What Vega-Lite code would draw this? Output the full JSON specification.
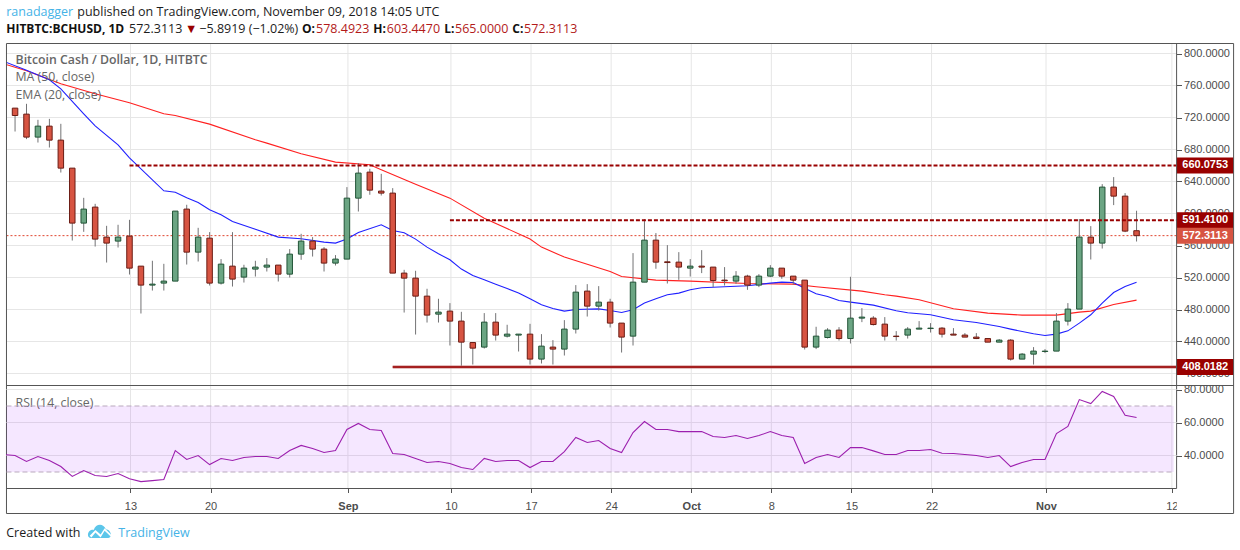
{
  "$schema": "https://vega.github.io/schema/vega-lite/v6.json",
  "width": 1230,
  "height": 550,
  "padding": {"left": 6, "top": 0, "right": 4, "bottom": 0},
  "autosize": "none",
  "background": "white",
  "config": {"view": {"stroke": null}},
  "datasets": {
    "candles": [
      {"date":"2018-08-02","open":768.4,"high":768.4,"low":732.1,"close":732.1},
      {"date":"2018-08-03","open":731.7,"high":731.7,"low":702.5,"close":722.5},
      {"date":"2018-08-04","open":724.2,"high":737.1,"low":693,"close":695.5},
      {"date":"2018-08-05","open":695.5,"high":717.1,"low":688.7,"close":709.2},
      {"date":"2018-08-06","open":709.2,"high":718.3,"low":682.5,"close":691.7},
      {"date":"2018-08-07","open":691.7,"high":712.1,"low":651.2,"close":656.7},
      {"date":"2018-08-08","open":656.7,"high":656.7,"low":566.2,"close":588},
      {"date":"2018-08-09","open":588,"high":619.6,"low":577.1,"close":605.5},
      {"date":"2018-08-10","open":608,"high":612.1,"low":558.7,"close":568},
      {"date":"2018-08-11","open":570.5,"high":584.6,"low":538.7,"close":563},
      {"date":"2018-08-12","open":565.5,"high":585.9,"low":557.5,"close":570.5},
      {"date":"2018-08-13","open":571.7,"high":592.1,"low":523.7,"close":531.7},
      {"date":"2018-08-14","open":534.2,"high":534.2,"low":475,"close":510.5},
      {"date":"2018-08-15","open":510.5,"high":540.9,"low":503.7,"close":511.7},
      {"date":"2018-08-16","open":513,"high":537.1,"low":503.7,"close":515.5},
      {"date":"2018-08-17","open":515.5,"high":603,"low":515.5,"close":603},
      {"date":"2018-08-18","open":605.5,"high":610.9,"low":536.2,"close":551.7},
      {"date":"2018-08-19","open":551.7,"high":582.1,"low":540,"close":570.5},
      {"date":"2018-08-20","open":569.2,"high":576.7,"low":510,"close":513},
      {"date":"2018-08-21","open":513,"high":543,"low":511.2,"close":536.7},
      {"date":"2018-08-22","open":534.2,"high":576.7,"low":508.7,"close":518},
      {"date":"2018-08-23","open":520.5,"high":535.9,"low":513.7,"close":531.7},
      {"date":"2018-08-24","open":530.5,"high":540.9,"low":521.2,"close":533},
      {"date":"2018-08-25","open":533,"high":544.2,"low":527.5,"close":535.5},
      {"date":"2018-08-26","open":535.5,"high":535.5,"low":515,"close":524.2},
      {"date":"2018-08-27","open":524.2,"high":555.5,"low":520,"close":549.2},
      {"date":"2018-08-28","open":549.2,"high":574.6,"low":542.1,"close":565.5},
      {"date":"2018-08-29","open":565.5,"high":570.5,"low":546.2,"close":555.5},
      {"date":"2018-08-30","open":555.5,"high":558,"low":527.5,"close":538},
      {"date":"2018-08-31","open":538,"high":548,"low":535,"close":543},
      {"date":"2018-09-01","open":543,"high":633,"low":543,"close":619.2},
      {"date":"2018-09-02","open":619.2,"high":663,"low":602.5,"close":650.5},
      {"date":"2018-09-03","open":651.7,"high":655.9,"low":623.4,"close":629.2},
      {"date":"2018-09-04","open":628,"high":649.6,"low":622.5,"close":625.5},
      {"date":"2018-09-05","open":625.5,"high":631.7,"low":525.5,"close":525.5},
      {"date":"2018-09-06","open":525.5,"high":529.6,"low":476.2,"close":519.2},
      {"date":"2018-09-07","open":519.2,"high":528.4,"low":448.7,"close":496.7},
      {"date":"2018-09-08","open":496.7,"high":505.9,"low":463.7,"close":473},
      {"date":"2018-09-09","open":474.2,"high":493.4,"low":463.7,"close":476.7},
      {"date":"2018-09-10","open":478,"high":488,"low":435,"close":465.5},
      {"date":"2018-09-11","open":465.5,"high":477.1,"low":408.7,"close":439.2},
      {"date":"2018-09-12","open":438.7,"high":438.7,"low":411.2,"close":431.7},
      {"date":"2018-09-13","open":433,"high":475.5,"low":431.2,"close":464.2},
      {"date":"2018-09-14","open":464.2,"high":475.5,"low":441.2,"close":448},
      {"date":"2018-09-15","open":446.7,"high":460.9,"low":445,"close":449.2},
      {"date":"2018-09-16","open":448,"high":449.2,"low":427.5,"close":449.2},
      {"date":"2018-09-17","open":449.2,"high":462.1,"low":411.2,"close":418},
      {"date":"2018-09-18","open":418,"high":449.2,"low":412.5,"close":434.2},
      {"date":"2018-09-19","open":433,"high":441.7,"low":411.2,"close":430.5},
      {"date":"2018-09-20","open":430.5,"high":466.7,"low":422.5,"close":455.5},
      {"date":"2018-09-21","open":455.5,"high":510.5,"low":450,"close":501.7},
      {"date":"2018-09-22","open":503,"high":511.7,"low":471.2,"close":484.2},
      {"date":"2018-09-23","open":484.2,"high":509.2,"low":478.7,"close":489.2},
      {"date":"2018-09-24","open":489.2,"high":493.4,"low":457.5,"close":463},
      {"date":"2018-09-25","open":463,"high":463,"low":426.2,"close":445.5},
      {"date":"2018-09-26","open":446.7,"high":550.5,"low":435,"close":514.2},
      {"date":"2018-09-27","open":514.2,"high":593,"low":514.2,"close":566.7},
      {"date":"2018-09-28","open":566.7,"high":575.5,"low":530.9,"close":539.2},
      {"date":"2018-09-29","open":539.6,"high":560.5,"low":512.5,"close":538.7},
      {"date":"2018-09-30","open":539.2,"high":551.7,"low":517.1,"close":533},
      {"date":"2018-10-01","open":531.7,"high":543,"low":521.2,"close":534.2},
      {"date":"2018-10-02","open":534.2,"high":554.2,"low":525.5,"close":533},
      {"date":"2018-10-03","open":533,"high":533,"low":508,"close":516.2},
      {"date":"2018-10-04","open":516.7,"high":533,"low":510,"close":515.9},
      {"date":"2018-10-05","open":515.5,"high":528,"low":512.1,"close":521.7},
      {"date":"2018-10-06","open":521.7,"high":523.4,"low":504.6,"close":510.5},
      {"date":"2018-10-07","open":510.5,"high":524.2,"low":508,"close":521.7},
      {"date":"2018-10-08","open":521.7,"high":535.5,"low":520.5,"close":531.7},
      {"date":"2018-10-09","open":531.7,"high":531.7,"low":518.4,"close":521.7},
      {"date":"2018-10-10","open":521.7,"high":521.7,"low":510.9,"close":516.7},
      {"date":"2018-10-11","open":516.7,"high":516.7,"low":430,"close":433},
      {"date":"2018-10-12","open":433,"high":458.4,"low":430.5,"close":446.7},
      {"date":"2018-10-13","open":445,"high":456.7,"low":443.7,"close":454.2},
      {"date":"2018-10-14","open":454.2,"high":458,"low":441.2,"close":443.7},
      {"date":"2018-10-15","open":443.7,"high":520.9,"low":437.5,"close":469.2},
      {"date":"2018-10-16","open":469.2,"high":481.7,"low":464.2,"close":470.5},
      {"date":"2018-10-17","open":469.2,"high":471.7,"low":460,"close":461.2},
      {"date":"2018-10-18","open":461.7,"high":470.5,"low":441.2,"close":446.7},
      {"date":"2018-10-19","open":446.7,"high":453,"low":441.2,"close":446.2},
      {"date":"2018-10-20","open":448,"high":458,"low":443.7,"close":455.5},
      {"date":"2018-10-21","open":455.5,"high":465.5,"low":455.5,"close":456.7},
      {"date":"2018-10-22","open":456.2,"high":463,"low":451.2,"close":456.7},
      {"date":"2018-10-23","open":456.7,"high":458,"low":445,"close":449.2},
      {"date":"2018-10-24","open":449.2,"high":456.7,"low":448,"close":448},
      {"date":"2018-10-25","open":448,"high":450.5,"low":445.5,"close":445.5},
      {"date":"2018-10-26","open":445.5,"high":450.5,"low":443,"close":443.7},
      {"date":"2018-10-27","open":443.7,"high":443.7,"low":439.2,"close":439.2},
      {"date":"2018-10-28","open":439.2,"high":443,"low":439.2,"close":441.7},
      {"date":"2018-10-29","open":441.7,"high":443,"low":416.2,"close":418},
      {"date":"2018-10-30","open":418,"high":425.5,"low":418,"close":424.2},
      {"date":"2018-10-31","open":424.2,"high":433,"low":411.2,"close":428},
      {"date":"2018-11-01","open":427.5,"high":430.5,"low":425.5,"close":428},
      {"date":"2018-11-02","open":428,"high":475.5,"low":428,"close":465.5},
      {"date":"2018-11-03","open":465.5,"high":488,"low":460,"close":480.5},
      {"date":"2018-11-04","open":480.5,"high":593,"low":480.5,"close":570.5},
      {"date":"2018-11-05","open":570.5,"high":584.2,"low":542.5,"close":563},
      {"date":"2018-11-06","open":563,"high":636.7,"low":556.2,"close":633},
      {"date":"2018-11-07","open":633,"high":645.5,"low":610.5,"close":621.7},
      {"date":"2018-11-08","open":621.7,"high":625.5,"low":576.7,"close":578},
      {"date":"2018-11-09","open":578.4923,"high":603.447,"low":565,"close":572.3113}
    ],
    "ma": [
      {"date":"2018-08-02","price":787.1},{"date":"2018-08-04","price":778.4},{"date":"2018-08-07","price":762.1},
      {"date":"2018-08-10","price":749.6},{"date":"2018-08-13","price":738.4},{"date":"2018-08-16","price":724.6},
      {"date":"2018-08-17","price":722.5},{"date":"2018-08-20","price":711.7},{"date":"2018-08-24","price":692.1},
      {"date":"2018-08-25","price":688},{"date":"2018-08-28","price":674.6},{"date":"2018-08-31","price":664.2},
      {"date":"2018-09-03","price":660.9},{"date":"2018-09-04","price":654.6},{"date":"2018-09-07","price":636.7},
      {"date":"2018-09-10","price":619.2},{"date":"2018-09-13","price":594.2},{"date":"2018-09-17","price":568},
      {"date":"2018-09-18","price":558},{"date":"2018-09-20","price":545.5},{"date":"2018-09-24","price":527.5},
      {"date":"2018-09-25","price":521.2},{"date":"2018-09-28","price":516.7},{"date":"2018-10-01","price":515.5},
      {"date":"2018-10-06","price":512.5},{"date":"2018-10-10","price":511.7},{"date":"2018-10-12","price":508.4},
      {"date":"2018-10-16","price":503},{"date":"2018-10-18","price":498.4},{"date":"2018-10-19","price":496.7},
      {"date":"2018-10-21","price":492.1},{"date":"2018-10-24","price":480.9},{"date":"2018-10-27","price":475.5},
      {"date":"2018-10-30","price":473},{"date":"2018-11-02","price":473},{"date":"2018-11-04","price":476.7},
      {"date":"2018-11-05","price":478},{"date":"2018-11-07","price":486.2},{"date":"2018-11-09","price":491.7}
    ],
    "ema": [
      {"date":"2018-08-02","price":790.2},{"date":"2018-08-04","price":779},{"date":"2018-08-06","price":767.1},
      {"date":"2018-08-07","price":755.9},{"date":"2018-08-09","price":724.6},{"date":"2018-08-10","price":709.6},
      {"date":"2018-08-12","price":685.9},{"date":"2018-08-13","price":669.6},{"date":"2018-08-16","price":628.4},
      {"date":"2018-08-17","price":626.5},{"date":"2018-08-18","price":619.6},{"date":"2018-08-19","price":613.7},
      {"date":"2018-08-20","price":604.6},{"date":"2018-08-21","price":598.4},{"date":"2018-08-22","price":590},
      {"date":"2018-08-24","price":580.2},{"date":"2018-08-26","price":570.5},{"date":"2018-08-28","price":568.4},
      {"date":"2018-08-30","price":564.2},{"date":"2018-08-31","price":563},{"date":"2018-09-01","price":568},
      {"date":"2018-09-02","price":576.2},{"date":"2018-09-04","price":585.9},{"date":"2018-09-05","price":578.7},
      {"date":"2018-09-06","price":575.9},{"date":"2018-09-07","price":568},{"date":"2018-09-08","price":558},
      {"date":"2018-09-09","price":549.6},{"date":"2018-09-10","price":542.1},{"date":"2018-09-11","price":530.5},
      {"date":"2018-09-12","price":522.5},{"date":"2018-09-13","price":517.1},{"date":"2018-09-14","price":511.7},
      {"date":"2018-09-15","price":506.2},{"date":"2018-09-16","price":500.5},{"date":"2018-09-17","price":493.4},
      {"date":"2018-09-18","price":485.9},{"date":"2018-09-19","price":481.2},{"date":"2018-09-20","price":478},
      {"date":"2018-09-21","price":480},{"date":"2018-09-23","price":480.8},{"date":"2018-09-24","price":478.7},
      {"date":"2018-09-25","price":476.2},{"date":"2018-09-26","price":479.6},{"date":"2018-09-27","price":488},
      {"date":"2018-09-28","price":493.4},{"date":"2018-09-29","price":498.4},{"date":"2018-09-30","price":500.5},
      {"date":"2018-10-01","price":504.6},{"date":"2018-10-02","price":507.1},{"date":"2018-10-04","price":508.4},
      {"date":"2018-10-06","price":509.6},{"date":"2018-10-08","price":513},{"date":"2018-10-09","price":514.2},
      {"date":"2018-10-10","price":513.7},{"date":"2018-10-11","price":506.7},{"date":"2018-10-12","price":499.6},
      {"date":"2018-10-13","price":496.2},{"date":"2018-10-14","price":491.2},{"date":"2018-10-15","price":489.2},
      {"date":"2018-10-17","price":485.5},{"date":"2018-10-19","price":478.4},{"date":"2018-10-20","price":475.9},
      {"date":"2018-10-22","price":473.4},{"date":"2018-10-24","price":467.1},{"date":"2018-10-26","price":463.7},
      {"date":"2018-10-28","price":458.7},{"date":"2018-10-29","price":455.5},{"date":"2018-10-31","price":449.6},
      {"date":"2018-11-01","price":447.5},{"date":"2018-11-02","price":449.2},{"date":"2018-11-03","price":453.3},
      {"date":"2018-11-04","price":463},{"date":"2018-11-05","price":473.4},{"date":"2018-11-06","price":488},
      {"date":"2018-11-07","price":501.2},{"date":"2018-11-08","price":508.7},{"date":"2018-11-09","price":514.2}
    ],
    "rsi": [
      {"date":"2018-08-02","rsi":40.6},{"date":"2018-08-03","rsi":40},{"date":"2018-08-04","rsi":36.4},{"date":"2018-08-05","rsi":39.4},
      {"date":"2018-08-06","rsi":37},{"date":"2018-08-07","rsi":33.3},{"date":"2018-08-08","rsi":27.3},{"date":"2018-08-09","rsi":30.9},
      {"date":"2018-08-10","rsi":27.9},{"date":"2018-08-11","rsi":27.3},{"date":"2018-08-12","rsi":29.1},{"date":"2018-08-13","rsi":25.9},
      {"date":"2018-08-14","rsi":24.2},{"date":"2018-08-15","rsi":24.8},{"date":"2018-08-16","rsi":25.5},{"date":"2018-08-17","rsi":43},
      {"date":"2018-08-18","rsi":37.6},{"date":"2018-08-19","rsi":40},{"date":"2018-08-20","rsi":34.5},{"date":"2018-08-21","rsi":38.2},
      {"date":"2018-08-22","rsi":37},{"date":"2018-08-23","rsi":38.8},{"date":"2018-08-24","rsi":39.4},{"date":"2018-08-25","rsi":39.4},
      {"date":"2018-08-26","rsi":38.2},{"date":"2018-08-27","rsi":43},{"date":"2018-08-28","rsi":46.1},{"date":"2018-08-29","rsi":44.2},
      {"date":"2018-08-30","rsi":41.8},{"date":"2018-08-31","rsi":43},{"date":"2018-09-01","rsi":55.8},{"date":"2018-09-02","rsi":59.4},
      {"date":"2018-09-03","rsi":55.8},{"date":"2018-09-04","rsi":55.2},{"date":"2018-09-05","rsi":41.2},{"date":"2018-09-06","rsi":40.6},
      {"date":"2018-09-07","rsi":38.2},{"date":"2018-09-08","rsi":35.8},{"date":"2018-09-09","rsi":36.4},{"date":"2018-09-10","rsi":35.2},
      {"date":"2018-09-11","rsi":32.7},{"date":"2018-09-12","rsi":31.5},{"date":"2018-09-13","rsi":38.2},{"date":"2018-09-14","rsi":36.4},
      {"date":"2018-09-15","rsi":37},{"date":"2018-09-16","rsi":37},{"date":"2018-09-17","rsi":32.7},{"date":"2018-09-18","rsi":36.4},
      {"date":"2018-09-19","rsi":36.4},{"date":"2018-09-20","rsi":42.4},{"date":"2018-09-21","rsi":50.9},{"date":"2018-09-22","rsi":47.9},
      {"date":"2018-09-23","rsi":49.1},{"date":"2018-09-24","rsi":44.2},{"date":"2018-09-25","rsi":41.8},{"date":"2018-09-26","rsi":53.9},
      {"date":"2018-09-27","rsi":60.6},{"date":"2018-09-28","rsi":55.8},{"date":"2018-09-29","rsi":55.8},{"date":"2018-09-30","rsi":54.5},
      {"date":"2018-10-01","rsi":54.5},{"date":"2018-10-02","rsi":54.5},{"date":"2018-10-03","rsi":51.5},{"date":"2018-10-04","rsi":50.9},
      {"date":"2018-10-05","rsi":52.1},{"date":"2018-10-06","rsi":50.3},{"date":"2018-10-07","rsi":52.1},{"date":"2018-10-08","rsi":54.5},
      {"date":"2018-10-09","rsi":52.1},{"date":"2018-10-10","rsi":50.9},{"date":"2018-10-11","rsi":35.2},{"date":"2018-10-12","rsi":38.8},
      {"date":"2018-10-13","rsi":40.6},{"date":"2018-10-14","rsi":38.8},{"date":"2018-10-15","rsi":44.8},{"date":"2018-10-16","rsi":44.8},
      {"date":"2018-10-17","rsi":42.8},{"date":"2018-10-18","rsi":40.6},{"date":"2018-10-19","rsi":40.6},{"date":"2018-10-20","rsi":43},
      {"date":"2018-10-21","rsi":43},{"date":"2018-10-22","rsi":43.6},{"date":"2018-10-23","rsi":41.4},{"date":"2018-10-24","rsi":41.2},
      {"date":"2018-10-25","rsi":40.6},{"date":"2018-10-26","rsi":40},{"date":"2018-10-27","rsi":38.8},{"date":"2018-10-28","rsi":40},
      {"date":"2018-10-29","rsi":33.3},{"date":"2018-10-30","rsi":35.8},{"date":"2018-10-31","rsi":37.6},{"date":"2018-11-01","rsi":37.6},
      {"date":"2018-11-02","rsi":53.3},{"date":"2018-11-03","rsi":57.6},{"date":"2018-11-04","rsi":73.9},{"date":"2018-11-05","rsi":71.5},
      {"date":"2018-11-06","rsi":78.8},{"date":"2018-11-07","rsi":75.8},{"date":"2018-11-08","rsi":64.4},{"date":"2018-11-09","rsi":63}
    ],
    "priceGrid": [
      {"date":"2018-08-02T06:00:00Z","date2":"2018-11-12T12:00:00Z","price":800},
      {"date":"2018-08-02T06:00:00Z","date2":"2018-11-12T12:00:00Z","price":760},
      {"date":"2018-08-02T06:00:00Z","date2":"2018-11-12T12:00:00Z","price":720},
      {"date":"2018-08-02T06:00:00Z","date2":"2018-11-12T12:00:00Z","price":680},
      {"date":"2018-08-02T06:00:00Z","date2":"2018-11-12T12:00:00Z","price":640},
      {"date":"2018-08-02T06:00:00Z","date2":"2018-11-12T12:00:00Z","price":600},
      {"date":"2018-08-02T06:00:00Z","date2":"2018-11-12T12:00:00Z","price":560},
      {"date":"2018-08-02T06:00:00Z","date2":"2018-11-12T12:00:00Z","price":520},
      {"date":"2018-08-02T06:00:00Z","date2":"2018-11-12T12:00:00Z","price":480},
      {"date":"2018-08-02T06:00:00Z","date2":"2018-11-12T12:00:00Z","price":440},
      {"date":"2018-08-02T06:00:00Z","date2":"2018-11-12T12:00:00Z","price":400}
    ],
    "dateGrid": [
      {"date":"2018-08-13","price":812.5,"price2":256.25},{"date":"2018-08-20","price":812.5,"price2":256.25},
      {"date":"2018-09-01","price":812.5,"price2":256.25},{"date":"2018-09-10","price":812.5,"price2":256.25},
      {"date":"2018-09-17","price":812.5,"price2":256.25},{"date":"2018-09-24","price":812.5,"price2":256.25},
      {"date":"2018-10-01","price":812.5,"price2":256.25},{"date":"2018-10-08","price":812.5,"price2":256.25},
      {"date":"2018-10-15","price":812.5,"price2":256.25},{"date":"2018-10-22","price":812.5,"price2":256.25},
      {"date":"2018-11-01","price":812.5,"price2":256.25},{"date":"2018-11-12","price":812.5,"price2":256.25}
    ],
    "rsiGrid": [
      {"date":"2018-08-02T06:00:00Z","date2":"2018-11-12T12:00:00Z","rsi":80},
      {"date":"2018-08-02T06:00:00Z","date2":"2018-11-12T12:00:00Z","rsi":60},
      {"date":"2018-08-02T06:00:00Z","date2":"2018-11-12T12:00:00Z","rsi":40}
    ],
    "frame": [
      {"date":"2018-08-02T06:00:00Z","date2":"2018-11-17T11:30:00Z","price":812.5,"price2":812.5},
      {"date":"2018-08-02T06:00:00Z","date2":"2018-11-17T11:30:00Z","price":385,"price2":385},
      {"date":"2018-08-02T06:00:00Z","date2":"2018-11-17T11:30:00Z","price":225,"price2":225},
      {"date":"2018-08-02T06:00:00Z","date2":"2018-11-12T12:00:00Z","price":256.25,"price2":256.25},
      {"date":"2018-08-02T06:00:00Z","date2":"2018-08-02T06:00:00Z","price":812.5,"price2":225},
      {"date":"2018-11-17T11:30:00Z","date2":"2018-11-17T11:30:00Z","price":812.5,"price2":225},
      {"date":"2018-11-12T12:00:00Z","date2":"2018-11-12T12:00:00Z","price":812.5,"price2":256.25}
    ],
    "levels": [
      {"date":"2018-08-13","date2":"2018-11-12T12:00:00Z","price":660.0753},
      {"date":"2018-09-10","date2":"2018-11-12T12:00:00Z","price":591.41}
    ],
    "support": [
      {"date":"2018-09-05","date2":"2018-11-12T12:00:00Z","price":408.0182}
    ],
    "last": [
      {"date":"2018-08-02T06:00:00Z","date2":"2018-11-12T12:00:00Z","price":572.3113}
    ],
    "tags": [
      {"date":"2018-11-15","start":"2018-11-12T12:00:00Z","end":"2018-11-17T11:30:00Z","price":660.0753,"kind":"level"},
      {"date":"2018-11-15","start":"2018-11-12T12:00:00Z","end":"2018-11-17T11:30:00Z","price":591.41,"kind":"level"},
      {"date":"2018-11-15","start":"2018-11-12T12:00:00Z","end":"2018-11-17T11:30:00Z","price":572.3113,"kind":"last"},
      {"date":"2018-11-15","start":"2018-11-12T12:00:00Z","end":"2018-11-17T11:30:00Z","price":408.0182,"kind":"level"}
    ],
    "mask": [
      {"date":"2018-11-12T12:30:00Z","date2":"2018-11-13T14:00:00Z","price":239.4}
    ],
    "notes": [
      {"date":"2018-08-03T01:00:00Z","price":792,"text":"Bitcoin Cash / Dollar, 1D, HITBTC","part":"title"},
      {"date":"2018-08-03T01:00:00Z","price":770.3,"text":"MA (50, close)","part":"study"},
      {"date":"2018-08-03T01:00:00Z","price":748.2,"text":"EMA (20, close)","part":"study"},
      {"date":"2018-08-03T01:00:00Z","price":363.5,"text":"RSI (14, close)","part":"study"}
    ],
    "labels": [
      {"date":"2018-08-02T05:30:00Z","price":852.3,"text":"ranadagger","part":"link"},
      {"date":"2018-08-08T10:30:00Z","price":852.3,"text":"published on TradingView.com, November 09, 2018 14:05 UTC","part":"ink"},
      {"date":"2018-08-02T05:30:00Z","price":830.3,"text":"HITBTC:BCHUSD, 1D","part":"key"},
      {"date":"2018-08-12T23:00:00Z","price":830.3,"text":"572.3113","part":"ink"},
      {"date":"2018-08-17T20:24:00Z","price":830.3,"text":"▼","part":"down"},
      {"date":"2018-08-19T02:24:00Z","price":830.3,"text":"−5.8919 (−1.02%)","part":"ink"},
      {"date":"2018-08-28T01:42:00Z","price":830.3,"text":"O:","part":"key"},
      {"date":"2018-08-29T07:12:00Z","price":830.3,"text":"578.4923","part":"value"},
      {"date":"2018-09-03T07:12:00Z","price":830.3,"text":"H:","part":"key"},
      {"date":"2018-09-04T11:30:00Z","price":830.3,"text":"603.4470","part":"value"},
      {"date":"2018-09-09T12:15:00Z","price":830.3,"text":"L:","part":"key"},
      {"date":"2018-09-10T10:48:00Z","price":830.3,"text":"565.0000","part":"value"},
      {"date":"2018-09-15T10:48:00Z","price":830.3,"text":"C:","part":"key"},
      {"date":"2018-09-16T11:30:00Z","price":830.3,"text":"572.3113","part":"value"},
      {"date":"2018-08-02T05:30:00Z","price":201,"text":"Created with","part":"ink"},
      {"date":"2018-08-12T00:30:00Z","price":201,"text":"TradingView","part":"link"}
    ],
    "logo": [
      {"date":"2018-08-10T09:00:00Z","price":203}
    ]
  },
  "encoding": {
    "x": {
      "field": "date",
      "type": "temporal",
      "title": null,
      "scale": {"type": "utc", "domain": ["2018-08-02T05:00:00Z", "2018-11-17T16:34:00Z"], "padding": 0},
      "axis": {
        "orient": "bottom",
        "offset": -61.5,
        "values": ["2018-08-13", "2018-08-20", "2018-09-01", "2018-09-10", "2018-09-17", "2018-09-24", "2018-10-01", "2018-10-08", "2018-10-15", "2018-10-22", "2018-11-01", "2018-11-12"],
        "labelExpr": "utcdate(datum.value) == 1 ? utcFormat(datum.value, '%b') : utcFormat(datum.value, '%-d')",
        "labelFontWeight": {"expr": "utcdate(datum.value) == 1 ? 'bold' : 'normal'"},
        "grid": false,
        "domain": false,
        "tickOffset": 1,
        "tickSize": 4,
        "tickColor": "#555555",
        "labelPadding": 8,
        "labelFont": "Liberation Sans",
        "labelFontSize": 11,
        "labelColor": "#4c4c4c",
        "labelOverlap": false,
        "labelFlush": false
      }
    }
  },
  "layer": [
    {
      "layer": [
        {
          "data": {"name": "priceGrid"},
          "mark": {"type": "rule", "color": "#e6e6e6", "strokeWidth": 1},
          "encoding": {
            "x2": {"field": "date2"},
            "y": {
              "field": "price",
              "type": "quantitative",
              "scale": {"domain": [179.375, 866.875], "nice": false, "zero": false},
              "axis": {
                "orient": "right",
                "offset": -59.5,
                "title": null,
                "values": [400, 440, 480, 520, 560, 600, 640, 680, 720, 760, 800],
                "format": ".4f",
                "grid": false,
                "domain": false,
                "tickSize": 5,
                "tickColor": "#555555",
                "labelPadding": 2,
                "labelFont": "Liberation Sans",
                "labelFontSize": 11,
                "labelColor": "#4c4c4c",
                "labelOverlap": false
              }
            }
          }
        },
        {
          "data": {"name": "dateGrid"},
          "mark": {"type": "rule", "color": "#e6e6e6", "strokeWidth": 1, "xOffset": 1},
          "encoding": {
            "y": {"field": "price", "type": "quantitative", "scale": {"domain": [179.375, 866.875], "nice": false, "zero": false}},
            "y2": {"field": "price2"}
          }
        },
        {
          "data": {"name": "last"},
          "mark": {"type": "rule", "color": "#e0452f", "strokeWidth": 1, "strokeDash": [2, 2]},
          "encoding": {
            "x2": {"field": "date2"},
            "y": {"field": "price", "type": "quantitative", "scale": {"domain": [179.375, 866.875], "nice": false, "zero": false}}
          }
        },
        {
          "data": {"name": "ma"},
          "mark": {"type": "line", "color": "#ff2020", "strokeWidth": 1.1, "clip": true},
          "encoding": {
            "y": {"field": "price", "type": "quantitative", "scale": {"domain": [179.375, 866.875], "nice": false, "zero": false}}
          }
        },
        {
          "data": {"name": "ema"},
          "mark": {"type": "line", "color": "#2020ff", "strokeWidth": 1.1, "clip": true},
          "encoding": {
            "y": {"field": "price", "type": "quantitative", "scale": {"domain": [179.375, 866.875], "nice": false, "zero": false}}
          }
        },
        {
          "data": {"name": "candles"},
          "mark": {"type": "rule", "color": "#737375", "strokeWidth": 1, "clip": true},
          "encoding": {
            "y": {"field": "low", "type": "quantitative", "scale": {"domain": [179.375, 866.875], "nice": false, "zero": false}},
            "y2": {"field": "high"}
          }
        },
        {
          "data": {"name": "candles"},
          "mark": {"type": "bar", "size": 5.5, "strokeWidth": 1, "orient": "vertical", "clip": true},
          "encoding": {
            "y": {"field": "open", "type": "quantitative", "scale": {"domain": [179.375, 866.875], "nice": false, "zero": false}},
            "y2": {"field": "close"},
            "color": {"condition": {"test": "datum.close >= datum.open", "value": "#6ba583"}, "value": "#d75442"},
            "stroke": {"condition": {"test": "datum.close >= datum.open", "value": "#225437"}, "value": "#6b1c14"}
          }
        },
        {
          "data": {"name": "levels"},
          "mark": {"type": "rule", "color": "#990000", "strokeWidth": 2, "strokeDash": [4, 2]},
          "encoding": {
            "x2": {"field": "date2"},
            "y": {"field": "price", "type": "quantitative", "scale": {"domain": [179.375, 866.875], "nice": false, "zero": false}}
          }
        },
        {
          "data": {"name": "support"},
          "mark": {"type": "rule", "color": "#c98080", "strokeWidth": 3},
          "encoding": {
            "x2": {"field": "date2"},
            "y": {"field": "price", "type": "quantitative", "scale": {"domain": [179.375, 866.875], "nice": false, "zero": false}}
          }
        },
        {
          "data": {"name": "support"},
          "mark": {"type": "rule", "color": "#990000", "strokeWidth": 1.5},
          "encoding": {
            "x2": {"field": "date2"},
            "y": {"field": "price", "type": "quantitative", "scale": {"domain": [179.375, 866.875], "nice": false, "zero": false}}
          }
        },
        {
          "data": {"name": "tags"},
          "mark": {"type": "rule", "strokeWidth": 16, "strokeCap": "butt"},
          "encoding": {
            "x": {"field": "start", "type": "temporal"},
            "x2": {"field": "end"},
            "y": {"field": "price", "type": "quantitative", "scale": {"domain": [179.375, 866.875], "nice": false, "zero": false}},
            "color": {"condition": {"test": "datum.kind == 'last'", "value": "#d75442"}, "value": "#990000"}
          }
        },
        {
          "data": {"name": "tags"},
          "mark": {"type": "text", "color": "white", "font": "Liberation Sans", "fontSize": 11, "fontWeight": "bold"},
          "encoding": {
            "y": {"field": "price", "type": "quantitative", "scale": {"domain": [179.375, 866.875], "nice": false, "zero": false}},
            "text": {"field": "price", "type": "quantitative", "format": ".4f"}
          }
        },
        {
          "data": {"name": "mask"},
          "mark": {"type": "rule", "color": "white", "strokeWidth": 16},
          "encoding": {
            "x2": {"field": "date2"},
            "y": {"field": "price", "type": "quantitative", "scale": {"domain": [179.375, 866.875], "nice": false, "zero": false}}
          }
        },
        {
          "data": {"name": "frame"},
          "mark": {"type": "rule", "color": "#555555", "strokeWidth": 1},
          "encoding": {
            "x2": {"field": "date2"},
            "y": {"field": "price", "type": "quantitative", "scale": {"domain": [179.375, 866.875], "nice": false, "zero": false}},
            "y2": {"field": "price2"}
          }
        },
        {
          "data": {"name": "notes"},
          "transform": [{"filter": "datum.part == 'title'"}],
          "mark": {"type": "text", "align": "left", "color": "#666666", "font": "Open Sans", "fontSize": 12.3, "fontWeight": 600},
          "encoding": {
            "y": {"field": "price", "type": "quantitative", "scale": {"domain": [179.375, 866.875], "nice": false, "zero": false}},
            "text": {"field": "text"}
          }
        },
        {
          "data": {"name": "notes"},
          "transform": [{"filter": "datum.part == 'study'"}],
          "mark": {"type": "text", "align": "left", "color": "#666666", "font": "Open Sans", "fontSize": 12.3},
          "encoding": {
            "y": {"field": "price", "type": "quantitative", "scale": {"domain": [179.375, 866.875], "nice": false, "zero": false}},
            "text": {"field": "text"}
          }
        },
        {
          "data": {"name": "labels"},
          "transform": [{"filter": "datum.part != 'key'"}],
          "mark": {"type": "text", "align": "left", "font": "Open Sans", "fontSize": 12.5},
          "encoding": {
            "y": {"field": "price", "type": "quantitative", "scale": {"domain": [179.375, 866.875], "nice": false, "zero": false}},
            "text": {"field": "text"},
            "color": {
              "field": "part",
              "type": "nominal",
              "legend": null,
              "scale": {"domain": ["link", "ink", "down", "value", "key"], "range": ["#45b3e7", "#1c1c1c", "#990000", "#b31a1a", "#111111"]}
            }
          }
        },
        {
          "data": {"name": "labels"},
          "transform": [{"filter": "datum.part == 'key'"}],
          "mark": {"type": "text", "align": "left", "font": "Open Sans", "fontSize": 12, "fontWeight": "bold"},
          "encoding": {
            "y": {"field": "price", "type": "quantitative", "scale": {"domain": [179.375, 866.875], "nice": false, "zero": false}},
            "text": {"field": "text"},
            "color": {"field": "part", "type": "nominal", "legend": null}
          }
        },
        {
          "data": {"name": "logo"},
          "mark": {
            "type": "point",
            "filled": true,
            "opacity": 1,
            "color": "#5cc6ea",
            "size": 529,
            "shape": "M -1 0.35 C -1 0 -0.7 -0.15 -0.5 -0.1 C -0.35 -0.65 0.35 -0.75 0.55 -0.15 C 0.8 -0.15 1 0.1 1 0.35 C 1 0.5 0.9 0.6 0.75 0.6 L -0.75 0.6 C -0.9 0.6 -1 0.5 -1 0.35 Z"
          },
          "encoding": {
            "y": {"field": "price", "type": "quantitative", "scale": {"domain": [179.375, 866.875], "nice": false, "zero": false}}
          }
        },
        {
          "data": {"name": "logo"},
          "mark": {
            "type": "point",
            "filled": true,
            "opacity": 1,
            "color": "white",
            "size": 529,
            "shape": "M -0.85 0.4 L -0.35 -0.1 L 0.1 0.3 L 0.45 -0.25 L 1 0.3 L 1 0.5 L 0.45 -0.02 L 0.1 0.55 L -0.35 0.13 L -0.7 0.55 Z"
          },
          "encoding": {
            "y": {"field": "price", "type": "quantitative", "scale": {"domain": [179.375, 866.875], "nice": false, "zero": false}}
          }
        }
      ]
    },
    {
      "layer": [
        {
          "data": {"name": "rsiGrid"},
          "mark": {"type": "rule", "color": "#e6e6e6", "strokeWidth": 1},
          "encoding": {
            "x2": {"field": "date2"},
            "y": {
              "field": "rsi",
              "type": "quantitative",
              "scale": {"domain": [-17.27, 316.06], "nice": false, "zero": false},
              "axis": {
                "orient": "right",
                "offset": -59.5,
                "title": null,
                "values": [40, 60, 80],
                "format": ".4f",
                "grid": false,
                "domain": false,
                "tickSize": 5,
                "tickColor": "#555555",
                "labelPadding": 2,
                "labelFont": "Liberation Sans",
                "labelFontSize": 11,
                "labelColor": "#4c4c4c",
                "labelOverlap": false
              }
            }
          }
        },
        {
          "data": {"values": [{"date": "2018-08-02T06:00:00Z", "date2": "2018-11-12T06:00:00Z", "rsi": 70, "rsi2": 30}]},
          "mark": {"type": "rect", "color": "#9915ff", "opacity": 0.1},
          "encoding": {
            "x2": {"field": "date2"},
            "y": {"field": "rsi", "type": "quantitative", "scale": {"domain": [-17.27, 316.06], "nice": false, "zero": false}},
            "y2": {"field": "rsi2"}
          }
        },
        {
          "data": {"values": [{"date": "2018-08-02T06:00:00Z", "date2": "2018-11-12T06:00:00Z", "rsi": 70}, {"date": "2018-08-02T06:00:00Z", "date2": "2018-11-12T06:00:00Z", "rsi": 30}]},
          "mark": {"type": "rule", "color": "#b9a9bd", "strokeWidth": 1, "strokeDash": [5, 3]},
          "encoding": {
            "x2": {"field": "date2"},
            "y": {"field": "rsi", "type": "quantitative", "scale": {"domain": [-17.27, 316.06], "nice": false, "zero": false}}
          }
        },
        {
          "data": {"name": "rsi"},
          "mark": {"type": "line", "color": "#9c1fae", "strokeWidth": 1.1, "clip": true},
          "encoding": {
            "y": {"field": "rsi", "type": "quantitative", "scale": {"domain": [-17.27, 316.06], "nice": false, "zero": false}}
          }
        }
      ]
    }
  ],
  "resolve": {"scale": {"y": "independent"}}
}
